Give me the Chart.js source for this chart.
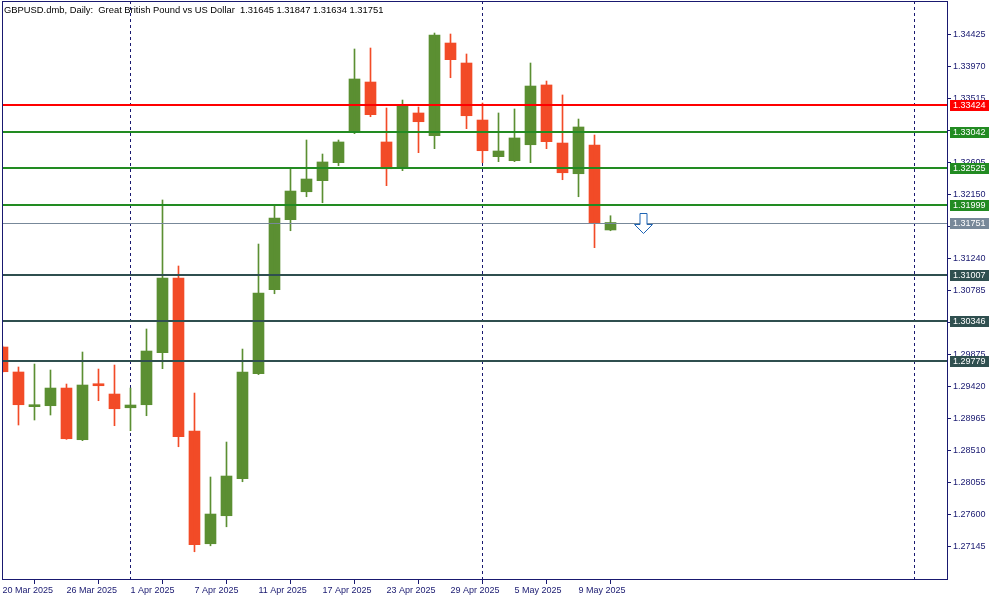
<!DOCTYPE html>
<html>
<head>
<meta charset="utf-8">
<script src="https://cdn.jsdelivr.net/npm/chart.js@4.4.1/dist/chart.umd.min.js"></script>
<style>
  body { margin: 0; background: #fff; }
  #wrap { width: 1000px; height: 600px; }
</style>
</head>
<body>
<div id="wrap"><canvas id="chart" width="1000" height="600"></canvas></div>
<script>
// daily bars, 20 Mar 2025 .. 13 May 2025
const opens  = [1.29982,1.29627,1.29134,1.29148,1.29399,1.28665,1.29460,1.29314,1.29119,1.29162,
                1.29901,1.30962,1.28788,1.27187,1.27585,1.28110,1.29602,1.30796,1.31791,1.32188,
                1.32345,1.32601,1.33033,1.33747,1.32895,1.32530,1.33307,1.32984,1.34301,1.34017,
                1.33207,1.32686,1.32629,1.32856,1.33705,1.32880,1.32444,1.32852,1.31645];
const highs  = [1.29995,1.29698,1.29740,1.29655,1.29456,1.29911,1.29669,1.29726,1.29399,1.30238,
                1.32071,1.31133,1.29328,1.28135,1.28632,1.29953,1.31445,1.32000,1.32525,1.32923,
                1.32724,1.32923,1.34216,1.34230,1.33378,1.33491,1.33392,1.34443,1.34429,1.34145,
                1.33449,1.33307,1.33364,1.34017,1.33761,1.33563,1.33221,1.32994,1.31847];
const lows   = [1.29625,1.28874,1.28945,1.29016,1.28670,1.28651,1.29219,1.28864,1.28793,1.29006,
                1.29674,1.28565,1.27073,1.27158,1.27428,1.28068,1.29590,1.30739,1.31634,1.32117,
                1.32032,1.32558,1.33013,1.33254,1.32274,1.32487,1.32743,1.32800,1.33808,1.33084,
                1.32601,1.32615,1.32615,1.32601,1.32800,1.32359,1.32117,1.31393,1.31634];
const closes = [1.29631,1.29162,1.29158,1.29399,1.28679,1.29442,1.29432,1.29105,1.29158,1.29925,
                1.30962,1.28707,1.27173,1.27609,1.28149,1.29627,1.30749,1.31815,1.32198,1.32369,
                1.32611,1.32895,1.33790,1.33283,1.32515,1.33420,1.33183,1.34415,1.34064,1.33268,
                1.32771,1.32767,1.32952,1.33690,1.32899,1.32458,1.33108,1.31750,1.31751];

const dateLabels = ['20 Mar 2025','26 Mar 2025','1 Apr 2025','7 Apr 2025','11 Apr 2025',
                    '17 Apr 2025','23 Apr 2025','29 Apr 2025','5 May 2025','9 May 2025'];
const dateTickIdx = [0,4,8,12,16,20,24,28,32,36];
const priceTicks = [1.27145,1.27600,1.28055,1.28510,1.28965,1.29420,1.29875,1.30330,1.30785,
                    1.31240,1.31695,1.32150,1.32605,1.33060,1.33515,1.33970,1.34425];

const levelPrices = [1.33424,1.33042,1.32525,1.31999,1.31751,1.31007,1.30346,1.29779];
const levelColors = ['#ff0000','#228b22','#228b22','#228b22','#778899','#2f4f4f','#2f4f4f','#2f4f4f'];
const levelWidths = [2,2,2,2,1,2,2,2];

const separatorIdx = [8, 30, 57];           // month separators (dotted)
const arrowMark = { x: 40, y: 1.31751 };     // sell arrow

const bull = '#5b8f32', bear = '#f24b27', navy = '#191970';
const font = { family: 'Liberation Sans, Arial, sans-serif', size: 9 };

const candleColors = opens.map((o, i) => closes[i] >= o ? bull : bear);
const wickData = lows.map((l, i) => ({ x: i, y: [l, highs[i]] }));
const bodyData = opens.map((o, i) => ({ x: i, y: [o, closes[i]] }));

// no extra room for first/last tick labels
function noPad(s) {
  s.paddingTop = 0; s.paddingBottom = 0; s.paddingLeft = 0; s.paddingRight = 0;
}

const overlay = {
  id: 'overlay',
  beforeDatasetsDraw(chart) {
    const { ctx, chartArea: a, scales: { x } } = chart;
    ctx.save();
    ctx.strokeStyle = navy;
    ctx.lineWidth = 1;
    ctx.setLineDash([3, 3]);
    separatorIdx.forEach(v => {
      const px = Math.round(x.getPixelForValue(v) - 0.5) + 0.5;
      ctx.beginPath();
      ctx.moveTo(px, a.top);
      ctx.lineTo(px, a.bottom);
      ctx.stroke();
    });
    ctx.restore();
  },
  afterDatasetsDraw(chart) {
    const { ctx, chartArea: a, scales: { x, y } } = chart;
    ctx.save();
    ctx.beginPath();
    ctx.rect(a.left, a.top, a.right - a.left, a.bottom - a.top);
    ctx.clip();
    levelPrices.forEach((p, i) => {
      const py = Math.round(y.getPixelForValue(p));
      ctx.fillStyle = levelColors[i];
      if (levelWidths[i] === 1) ctx.fillRect(a.left, py, a.right - a.left, 1);
      else ctx.fillRect(a.left, py - 1, a.right - a.left, 2);
    });
    // sell arrow
    const ax = Math.round(x.getPixelForValue(arrowMark.x)) + 0.5;
    const ay = Math.round(y.getPixelForValue(arrowMark.y)) + 0.5;
    ctx.beginPath();
    ctx.moveTo(ax - 3.5, ay - 10);
    ctx.lineTo(ax + 3.5, ay - 10);
    ctx.lineTo(ax + 3.5, ay + 1);
    ctx.lineTo(ax + 9, ay + 1);
    ctx.lineTo(ax, ay + 10);
    ctx.lineTo(ax - 9, ay + 1);
    ctx.lineTo(ax - 3.5, ay + 1);
    ctx.closePath();
    ctx.fillStyle = '#fff';
    ctx.fill();
    ctx.strokeStyle = '#1e64b4';
    ctx.lineWidth = 1;
    ctx.stroke();
    ctx.restore();

    // frame
    ctx.save();
    ctx.strokeStyle = navy;
    ctx.lineWidth = 1;
    ctx.strokeRect(a.left + 0.5, a.top + 0.5, a.right - a.left, a.bottom - a.top);
    ctx.restore();
  },
  afterDraw(chart) {
    const { ctx, chartArea: a, scales: { y } } = chart;
    ctx.save();
    ctx.font = font.size + 'px ' + font.family;
    ctx.textBaseline = 'middle';
    levelPrices.forEach((p, i) => {
      const py = Math.round(y.getPixelForValue(p));
      ctx.fillStyle = levelColors[i];
      ctx.fillRect(a.right + 3, py - 5, 39, 11);
      ctx.fillStyle = '#fff';
      ctx.fillText(p.toFixed(5), a.right + 6, py + 0.5);
    });
    ctx.font = '9.4px ' + font.family;
    ctx.fillStyle = '#000';
    ctx.textBaseline = 'alphabetic';
    ctx.fillText('GBPUSD.dmb, Daily:  Great British Pound vs US Dollar  ' +
      [opens[38], highs[38], lows[38], closes[38]].map(v => v.toFixed(5)).join(' '), a.left + 2, 13);
    ctx.restore();
  }
};

const ctx = document.getElementById('chart');

const chart = new Chart(ctx, {
  type: 'bar',
  data: {
    datasets: [{
      label: 'wicks',
      data: wickData,
      backgroundColor: candleColors,
      barThickness: 1,
      grouped: false,
      borderWidth: 0
    }, {
      label: 'bodies',
      data: bodyData,
      backgroundColor: candleColors,
      barThickness: 11,
      minBarLength: 2,
      grouped: false,
      borderWidth: 0
    }]
  },
  options: {
    responsive: false,
    animation: false,
    layout: { padding: { left: 2, top: 1, right: 0, bottom: 0 } },
    plugins: { legend: { display: false }, tooltip: { enabled: false } },
    scales: {
      x: {
        type: 'linear',
        min: -0.03,
        max: 59.03,
        offset: false,
        afterBuildTicks: s => { s.ticks = dateTickIdx.map(v => ({ value: v })); },
        afterFit: s => { s.height = 21; noPad(s); },
        ticks: {
          autoSkip: false, maxRotation: 0, align: 'start', padding: 1,
          color: navy, font: font,
          callback: (v, i) => dateLabels[i]
        },
        grid: { drawOnChartArea: false, tickLength: 5, color: navy },
        border: { display: true, color: navy }
      },
      y: {
        position: 'right',
        min: 1.26686,
        max: 1.34898,
        afterBuildTicks: s => { s.ticks = priceTicks.map(v => ({ value: v })); },
        afterFit: s => { s.width = 53; noPad(s); },
        ticks: { color: navy, font: font, padding: 2, callback: v => v.toFixed(5) },
        grid: { drawOnChartArea: false, tickLength: 4, color: navy },
        border: { display: true, color: navy }
      }
    }
  },
  plugins: [overlay]
});
</script>
</body>
</html>
